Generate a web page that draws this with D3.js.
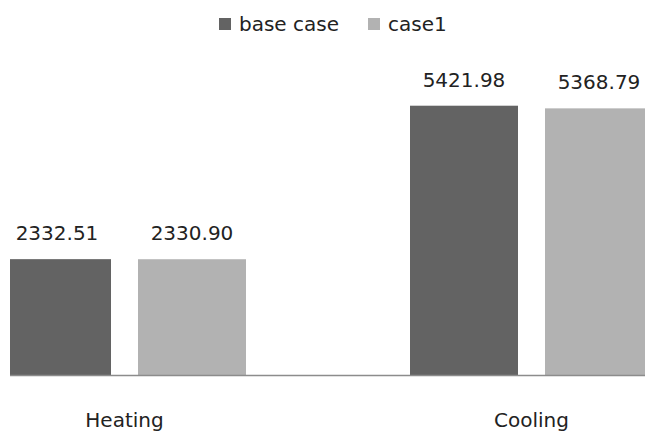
<!DOCTYPE html>
<html>
<head>
<meta charset="utf-8">
<script src="https://cdn.jsdelivr.net/npm/d3@7"></script>
<style>
  body { margin: 0; background: #fff; }
  svg text { font-family: 'DejaVu Sans', sans-serif; fill: #222; }
</style>
</head>
<body>
<script>
const width = 645;
const height = 431;

const categories = ['Heating', 'Cooling'];
const seriesNames = ['base case', 'case1'];
const seriesColors = ['#636363', '#b2b2b2'];
const baseCase = [2332.51, 5421.98];
const case1 = [2330.90, 5368.79];

const plotLeft = 10;
const baseline = 375;

const rows = categories.map((c, i) => ({
    cat: c,
    values: [
        {series: seriesNames[0], value: baseCase[i]},
        {series: seriesNames[1], value: case1[i]}
    ]
}));

const x = d3.scaleBand()
    .domain(categories)
    .range([-79, 735]);

const xInner = d3.scaleBand()
    .domain(seriesNames)
    .range([82, 325])
    .paddingInner(0.2);

const y = d3.scaleLinear()
    .domain([0, 6000])
    .range([baseline, 77]);

const color = d3.scaleOrdinal()
    .domain(seriesNames)
    .range(seriesColors);

const svg = d3.select('body')
    .append('svg')
    .attr('width', width)
    .attr('height', height);

svg.append('defs')
    .append('clipPath')
    .attr('id', 'plot_clip')
    .append('rect')
    .attr('x', plotLeft)
    .attr('y', 0)
    .attr('width', width - plotLeft)
    .attr('height', height);

// bars (clipped at the left edge of the plot area)
const groups = svg.append('g')
    .attr('clip-path', 'url(#plot_clip)')
    .selectAll('g')
    .data(rows)
    .enter()
    .append('g')
    .attr('transform', d => `translate(${x(d.cat)}, 0)`);

groups.selectAll('rect')
    .data(d => d.values)
    .enter()
    .append('rect')
    .attr('x', d => xInner(d.series))
    .attr('y', d => y(d.value))
    .attr('width', xInner.bandwidth())
    .attr('height', d => baseline - y(d.value))
    .attr('fill', d => color(d.series));

// value labels
const label_g = svg.append('g')
    .selectAll('g')
    .data(rows)
    .enter()
    .append('g')
    .attr('transform', d => `translate(${x(d.cat)}, 0)`);
label_g.selectAll('text')
    .data(d => d.values)
    .enter()
    .append('text')
    .attr('x', d => xInner(d.series) + xInner.bandwidth() / 2)
    .attr('y', d => y(d.value) - 19)
    .attr('text-anchor', 'middle')
    .attr('font-size', 20)
    .text(d => d.value.toFixed(2));

// category axis
const xAxis = d3.axisBottom(x).tickSize(0).tickPadding(0);
const axis_g = svg.append('g')
    .attr('transform', `translate(0, ${baseline})`)
    .call(xAxis);
axis_g.select('.domain').remove();
axis_g.append('line')
    .attr('x1', plotLeft)
    .attr('x2', width)
    .attr('y1', 0.5)
    .attr('y2', 0.5)
    .attr('stroke', '#8c8c8c')
    .attr('stroke-width', 1.5);
axis_g.selectAll('.tick text')
    .attr('font-size', 20)
    .attr('font-family', "'DejaVu Sans', sans-serif")
    .attr('fill', '#222')
    .attr('dy', null)
    .attr('y', 52);

// legend
const legendItems = [
    {name: seriesNames[0], x: 219},
    {name: seriesNames[1], x: 368}
];
const legend = svg.append('g')
    .selectAll('g')
    .data(legendItems)
    .enter()
    .append('g')
    .attr('transform', d => `translate(${d.x}, 0)`);
legend.append('rect')
    .attr('x', 0)
    .attr('y', 18)
    .attr('width', 12)
    .attr('height', 12)
    .attr('fill', d => color(d.name));
legend.append('text')
    .attr('x', 20)
    .attr('y', 31)
    .attr('font-size', 20)
    .text(d => d.name);
</script>
</body>
</html>
